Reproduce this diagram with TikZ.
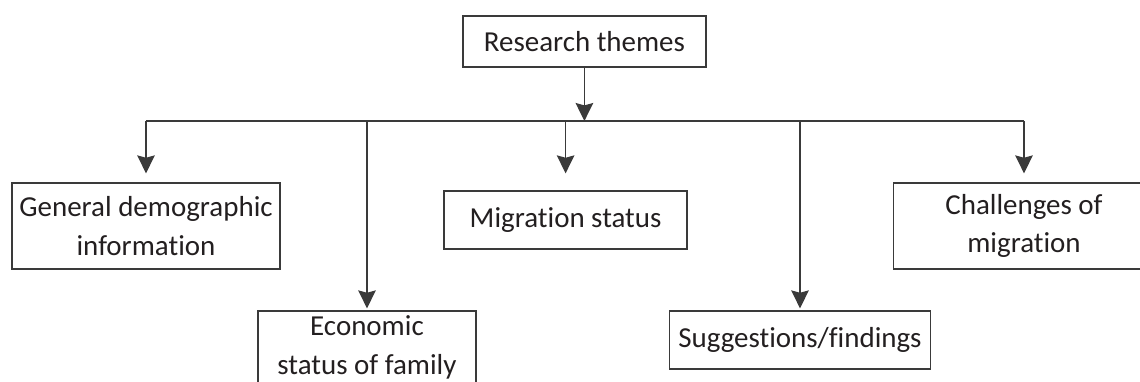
\documentclass[tikz,border=0pt]{standalone}
\usepackage{fontspec}
\setmainfont{Carlito}[Ligatures=NoCommon]
\usetikzlibrary{arrows.meta, positioning}
\definecolor{linegray}{HTML}{3A3A3A}
\definecolor{textgray}{HTML}{231F20}
\tikzset{
    theme/.style ={rectangle, draw=linegray, line width=0.9pt, align=center,
                   text=textgray, font=\fontsize{20.6}{27.4}\selectfont},
    link/.style = {draw=linegray, line width=1pt},
    arr/.style = {link, -{Stealth[length=0.45cm, width=0.44cm, inset=0.06cm]}}
    }
\begin{document}
\begin{tikzpicture}
    \useasboundingbox (0,0) rectangle (28.5, 9.525);

    \node[theme, minimum width=6.075cm, minimum height=1.275cm] (themes) at (14.61, 8.49) {Research themes};
    \node[theme, minimum width=6.7cm, minimum height=2.15cm] (general) at (3.65, 3.875) {General demographic\\information};
    \node[theme, minimum width=5.45cm, minimum height=1.825cm] (economic) at (9.175, 0.8375) {Economic\\status of family};
    \node[theme, minimum width=6.075cm, minimum height=1.45cm] (migration) at (14.14, 4.025) {Migration status};
    \node[theme, minimum width=6.525cm, minimum height=1.45cm] (suggestions) at (20.0, 1.025) {Suggestions/findings};
    \node[theme, minimum width=6.525cm, minimum height=2.15cm] (challenges) at (25.6, 3.875) {Challenges of\\migration};

    \coordinate (bar) at (0, 6.5);

    \draw[arr] (themes) -- (themes |- bar);
    \draw[link] (general |- bar) -- (challenges |- bar);
    \foreach \n/\gap in {general/0.225, economic/0.05, migration/0.425,
                         suggestions/0.05, challenges/0.225}
        \draw[arr, shorten >=\gap cm] (\n |- bar) -- (\n);
\end{tikzpicture}
\end{document}
